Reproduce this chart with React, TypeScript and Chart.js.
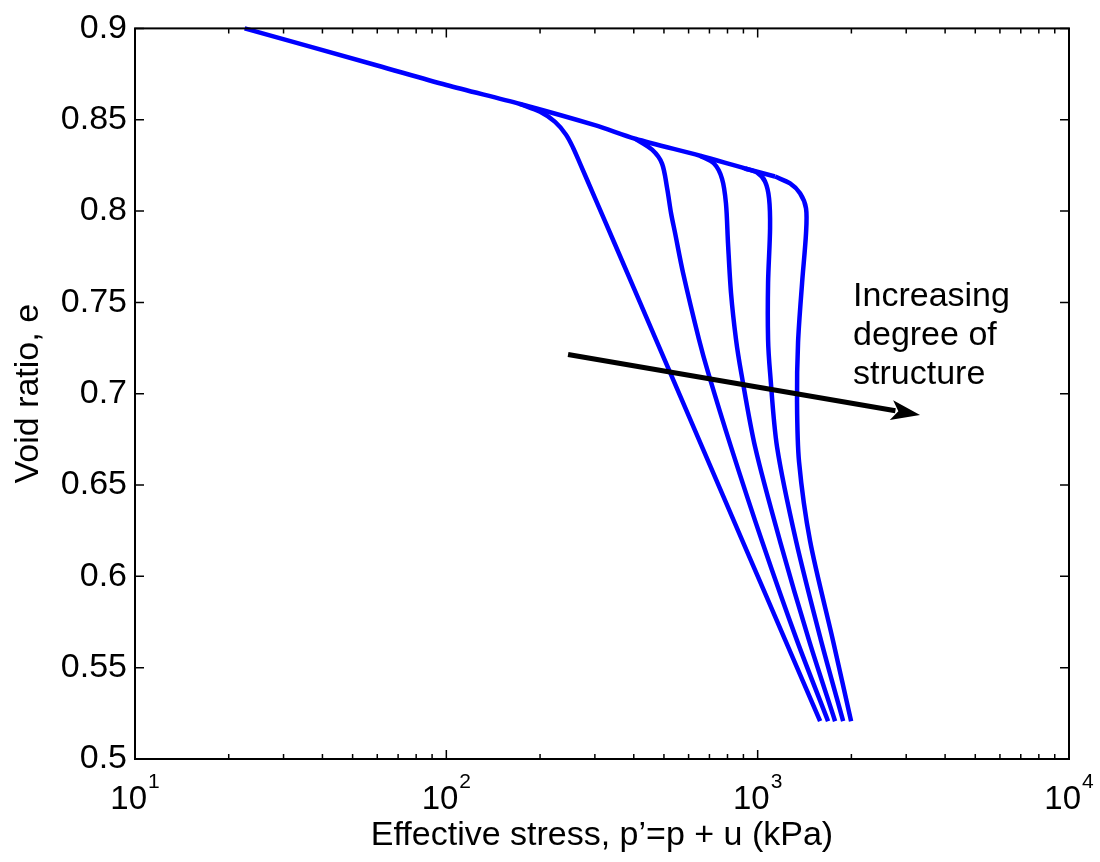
import { useEffect, useRef } from "react";
import { Chart, registerables } from "chart.js";

Chart.register(...registerables);

const FONT = '"Liberation Sans", Arial, Helvetica, sans-serif';

// Shared normal compression line (effective stress kPa, void ratio)
const nclStress = [22.5, 60, 100, 172.5, 300, 404, 653, 911, 1137];
const nclVoid = [0.9, 0.8797, 0.869, 0.8586, 0.847, 0.8396, 0.8303, 0.8233, 0.8189];

// Branches, from least to most structured
const c1Stress = [172.5, 200, 223.5, 242.4, 255.3, 268.9, 300.5, 346.6, 471, 667, 895, 1228, 1587];
const c1Void = [0.8586, 0.8543, 0.8488, 0.8418, 0.8347, 0.826, 0.8069, 0.7825, 0.7297, 0.6698, 0.6192, 0.5648, 0.5207];

const c2Stress = [404, 458, 493, 512, 527, 543, 576, 648, 693, 821, 1033, 1338, 1683];
const c2Void = [0.8396, 0.8336, 0.826, 0.8124, 0.7988, 0.7879, 0.7661, 0.7297, 0.7117, 0.6709, 0.6192, 0.5648, 0.5207];

const c3Stress = [653, 724, 768, 791, 803, 821, 852, 885, 981, 1180, 1463, 1773];
const c3Void = [0.8303, 0.826, 0.8178, 0.8042, 0.7825, 0.7552, 0.7297, 0.7117, 0.6709, 0.6192, 0.5648, 0.5207];

const c4Stress = [911, 996, 1056, 1088, 1096, 1080, 1080, 1096, 1154, 1329, 1598, 1882];
const c4Void = [0.8233, 0.8211, 0.8162, 0.8069, 0.7906, 0.7607, 0.7297, 0.7117, 0.6709, 0.6192, 0.5648, 0.5207];

const c5Stress = [1137, 1271, 1368, 1430, 1430, 1389, 1348, 1338, 1358, 1474, 1746, 1996];
const c5Void = [0.8189, 0.8151, 0.8097, 0.8015, 0.7879, 0.7607, 0.728, 0.6954, 0.6627, 0.6192, 0.5648, 0.5207];

// Axes
const xMajorTicks = [10, 100, 1000, 10000];
const xTickExponents = ["1", "2", "3", "4"];
const xMinorMultipliers = [2, 3, 4, 5, 6, 7, 8, 9];
const yTicks = [0.5, 0.55, 0.6, 0.65, 0.7, 0.75, 0.8, 0.85, 0.9];
const yTickLabels = ["0.5", "0.55", "0.6", "0.65", "0.7", "0.75", "0.8", "0.85", "0.9"];
const xTitle = "Effective stress, p\u2019=p + u (kPa)";
const yTitle = "Void ratio, e";

// Annotation
const arrowStress = [246, 3323];
const arrowVoid = [0.7215, 0.6883];
const annotationLines = ["Increasing", "degree of", "structure"];
const annotationStress = 2025;
const annotationVoid = 0.7482;

const toPoints = (xs: number[], ys: number[]) => xs.map((x, i) => ({ x, y: ys[i] }));

const framePlugin = {
  id: "frameTicks",
  afterDraw(chart: any) {
    const { ctx, chartArea } = chart;
    const { left, right, top, bottom } = chartArea;
    const x = chart.scales.x;
    const y = chart.scales.y;
    ctx.save();
    ctx.strokeStyle = "#000";
    ctx.fillStyle = "#000";

    // frame
    ctx.lineWidth = 2;
    ctx.strokeRect(left, top, right - left, bottom - top);

    // ticks
    ctx.lineWidth = 1.5;
    ctx.beginPath();
    xMajorTicks.forEach((v) => {
      const px = x.getPixelForValue(v);
      ctx.moveTo(px, bottom);
      ctx.lineTo(px, bottom - 9);
      ctx.moveTo(px, top);
      ctx.lineTo(px, top + 9);
    });
    xMajorTicks.slice(0, -1).forEach((d) => {
      xMinorMultipliers.forEach((m) => {
        const px = x.getPixelForValue(d * m);
        ctx.moveTo(px, bottom);
        ctx.lineTo(px, bottom - 5);
        ctx.moveTo(px, top);
        ctx.lineTo(px, top + 5);
      });
    });
    yTicks.forEach((v) => {
      const py = y.getPixelForValue(v);
      ctx.moveTo(left, py);
      ctx.lineTo(left + 9, py);
      ctx.moveTo(right, py);
      ctx.lineTo(right - 9, py);
    });
    ctx.stroke();

    // x tick labels 10^n
    ctx.textBaseline = "alphabetic";
    ctx.textAlign = "left";
    xMajorTicks.forEach((v, i) => {
      const px = x.getPixelForValue(v);
      ctx.font = `33px ${FONT}`;
      const w1 = ctx.measureText("10").width;
      ctx.font = `21px ${FONT}`;
      const w2 = ctx.measureText(xTickExponents[i]).width;
      const start = px - (w1 + w2 + 1) / 2;
      ctx.font = `33px ${FONT}`;
      ctx.fillText("10", start, bottom + 50);
      ctx.font = `21px ${FONT}`;
      ctx.fillText(xTickExponents[i], start + w1 + 1, bottom + 29);
    });

    // arrow
    const x0 = x.getPixelForValue(arrowStress[0]);
    const y0 = y.getPixelForValue(arrowVoid[0]);
    const x1 = x.getPixelForValue(arrowStress[1]);
    const y1 = y.getPixelForValue(arrowVoid[1]);
    const ang = Math.atan2(y1 - y0, x1 - x0);
    const headLen = 29;
    const headHalf = 10;
    const bx = x1 - headLen * Math.cos(ang);
    const by = y1 - headLen * Math.sin(ang);
    ctx.lineWidth = 5;
    ctx.lineCap = "butt";
    ctx.beginPath();
    ctx.moveTo(x0, y0);
    ctx.lineTo(bx + 4 * Math.cos(ang), by + 4 * Math.sin(ang));
    ctx.stroke();
    ctx.beginPath();
    ctx.moveTo(x1, y1);
    ctx.lineTo(bx + headHalf * Math.sin(ang), by - headHalf * Math.cos(ang));
    ctx.lineTo(bx + 7 * Math.cos(ang), by + 7 * Math.sin(ang));
    ctx.lineTo(bx - headHalf * Math.sin(ang), by + headHalf * Math.cos(ang));
    ctx.closePath();
    ctx.fill();

    // annotation text
    const tx = x.getPixelForValue(annotationStress);
    const ty = y.getPixelForValue(annotationVoid);
    ctx.font = `34px ${FONT}`;
    ctx.textAlign = "left";
    ctx.textBaseline = "alphabetic";
    annotationLines.forEach((line, i) => {
      ctx.fillText(line, tx, ty + i * 39);
    });

    ctx.restore();
  },
};

export default function App() {
  const canvasRef = useRef<HTMLCanvasElement | null>(null);

  useEffect(() => {
    const canvas = canvasRef.current;
    if (!canvas) return;
    const lineStyle = {
      borderColor: "#0000ff",
      borderWidth: 4.5,
      pointRadius: 0,
      pointHoverRadius: 0,
      tension: 0.3,
      fill: false,
      clip: false as any,
    };
    const chart = new Chart(canvas, {
      type: "line",
      data: {
        datasets: [
          { label: "NCL", data: toPoints(nclStress, nclVoid), ...lineStyle },
          { label: "1", data: toPoints(c1Stress, c1Void), ...lineStyle },
          { label: "2", data: toPoints(c2Stress, c2Void), ...lineStyle },
          { label: "3", data: toPoints(c3Stress, c3Void), ...lineStyle },
          { label: "4", data: toPoints(c4Stress, c4Void), ...lineStyle },
          { label: "5", data: toPoints(c5Stress, c5Void), ...lineStyle },
        ],
      },
      options: {
        animation: false,
        responsive: false,
        maintainAspectRatio: false,
        events: [],
        layout: { padding: { left: 0, top: 24, right: 31, bottom: 6 } },
        plugins: {
          legend: { display: false },
          tooltip: { enabled: false },
          title: { display: false },
        },
        scales: {
          x: {
            type: "logarithmic",
            min: 10,
            max: 10000,
            grid: { display: false, drawTicks: false },
            border: { display: false },
            ticks: { display: false },
            title: {
              display: true,
              text: xTitle,
              color: "#000",
              font: { family: FONT, size: 34 },
              padding: { top: 0, bottom: 0 },
            },
            afterFit: (scale: any) => {
              scale.height = 97;
            },
          },
          y: {
            type: "linear",
            min: 0.5,
            max: 0.9,
            grid: { display: false, drawTicks: false },
            border: { display: false },
            ticks: {
              stepSize: 0.05,
              padding: 8,
              color: "#000",
              font: { family: FONT, size: 34 },
              callback: (_v: any, i: number) => yTickLabels[i],
            },
            title: {
              display: true,
              text: yTitle,
              color: "#000",
              font: { family: FONT, size: 34 },
              padding: { top: 8, bottom: 0 },
            },
            afterFit: (scale: any) => {
              scale.width = 135;
            },
          },
        },
      },
      plugins: [framePlugin],
    });
    return () => chart.destroy();
  }, []);

  return (
    <div style={{ position: "absolute", left: 0, top: 0, width: 1100, height: 862, background: "#fff" }}>
      <canvas ref={canvasRef} width={1100} height={862} style={{ display: "block", width: 1100, height: 862 }} />
    </div>
  );
}
